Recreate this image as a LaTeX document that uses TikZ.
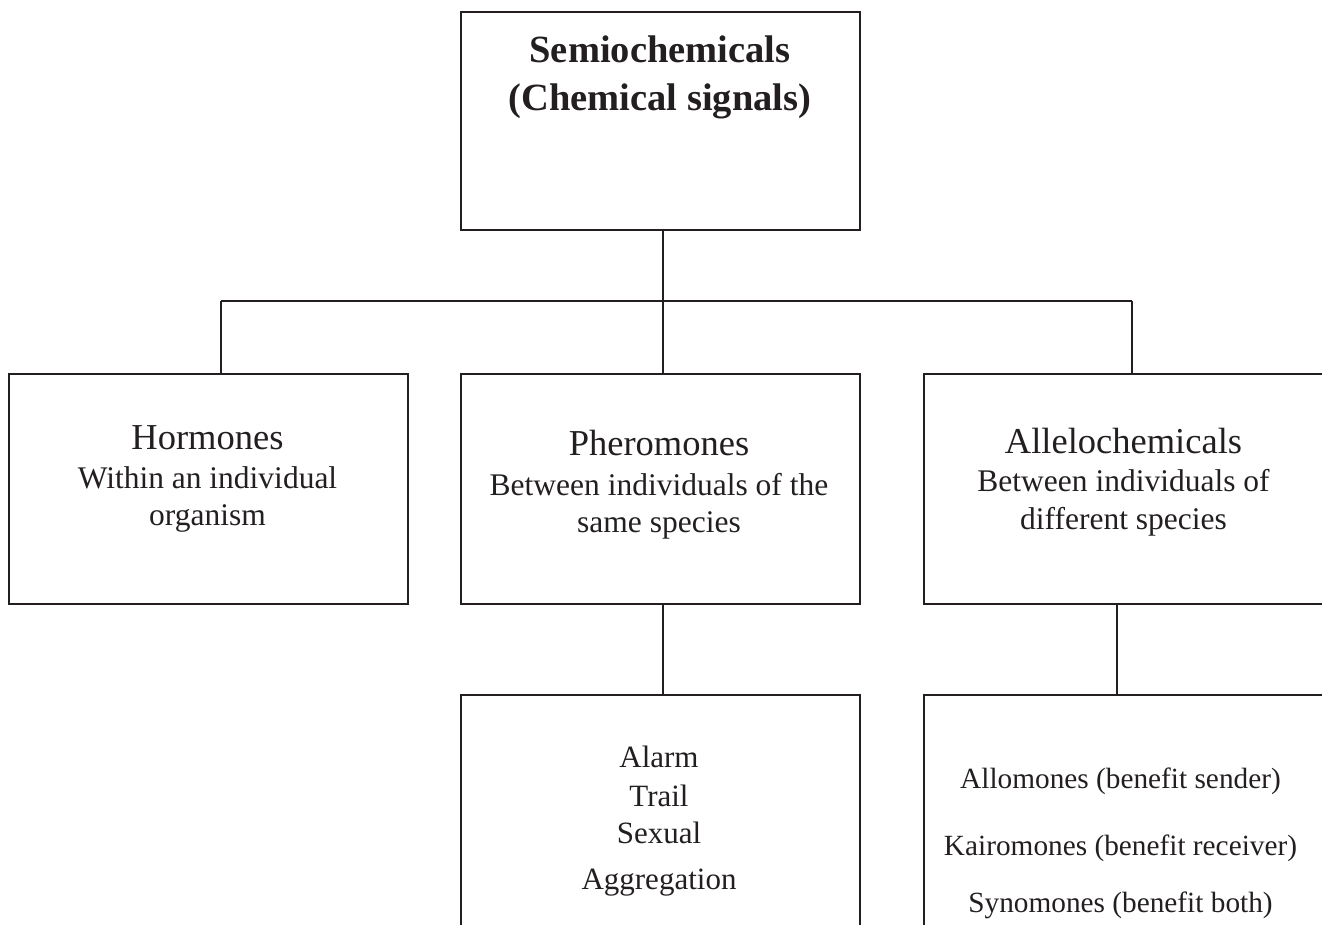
\documentclass[tikz,border=0pt]{standalone}
\usepackage{fontspec}
\setmainfont{Liberation Serif}
\definecolor{ink}{HTML}{231F20}
\begin{document}
\begin{tikzpicture}[x=1pt,y=1pt,
  box/.style={draw=ink,line width=1.4pt,inner sep=0pt,outer sep=0pt},
  conn/.style={draw=ink,line width=1.4pt},
  txt/.style={anchor=base,inner sep=0pt,text=ink},
  head/.style={txt,font=\fontsize{36.5}{40}\selectfont},
  sub/.style={txt,font=\fontsize{31.5}{36}\selectfont},
  item/.style={txt,font=\fontsize{31}{36}\selectfont},
  itemr/.style={txt,font=\fontsize{29.3}{34}\selectfont},
  titl/.style={txt,font=\bfseries\fontsize{38.5}{44}\selectfont}]
\useasboundingbox (0,0) rectangle (1322,924);
% boxes
\node[box,minimum width=399pt,minimum height=218pt] (top) at (660.5,803) {};
\node[box,minimum width=399pt,minimum height=230pt] (hor) at (208.5,435) {};
\node[box,minimum width=399pt,minimum height=230pt] (pher) at (660.5,435) {};
\node[box,minimum width=399pt,minimum height=230pt] (alle) at (1123.5,435) {};
\node[box,minimum width=399pt,minimum height=249pt] (botp) at (660.5,104.5) {};
\node[box,minimum width=399pt,minimum height=249pt] (bota) at (1123.5,104.5) {};
% texts
\node[titl] (t1) at (660,861) {Semiochemicals};
\node[titl] (t2) at (660,813) {(Chemical signals)};
\node[head] (h1) at (207.5,474) {Hormones};
\node[sub] (h2) at (207.5,435) {Within an individual};
\node[sub] (h3) at (207.5,398) {organism};
\node[head] (p1) at (659,468) {Pheromones};
\node[sub] (p2) at (659,428) {Between individuals of the};
\node[sub] (p3) at (659,391) {same species};
\node[head] (a1) at (1123.5,470) {Allelochemicals};
\node[sub] (a2) at (1123.5,432) {Between individuals of};
\node[sub] (a3) at (1123.5,394) {different species};
\node[item] (b1) at (659,157) {Alarm};
\node[item] (b2) at (659,118) {Trail};
\node[item] (b3) at (659,81) {Sexual};
\node[item] (b4) at (659,35) {Aggregation};
\node[itemr] (r1) at (1120.5,136) {Allomones (benefit sender)};
\node[itemr] (r2) at (1120.5,69) {Kairomones (benefit receiver)};
\node[itemr] (r3) at (1120.5,12) {Synomones (benefit both)};
% connectors
\coordinate (busM) at (663,623);
\coordinate (busL) at (221,623);
\coordinate (busR) at (1132,623);
\coordinate (dP) at (663,0);
\coordinate (dA) at (1117,0);
\draw[conn] (top.south -| busM) -- (busM);
\draw[conn] (busL) -- (busR);
\draw[conn] (busL) -- (busL |- hor.north);
\draw[conn] (busM) -- (busM |- pher.north);
\draw[conn] (busR) -- (busR |- alle.north);
\draw[conn] (pher.south -| dP) -- (botp.north -| dP);
\draw[conn] (alle.south -| dA) -- (bota.north -| dA);
\end{tikzpicture}
\end{document}
